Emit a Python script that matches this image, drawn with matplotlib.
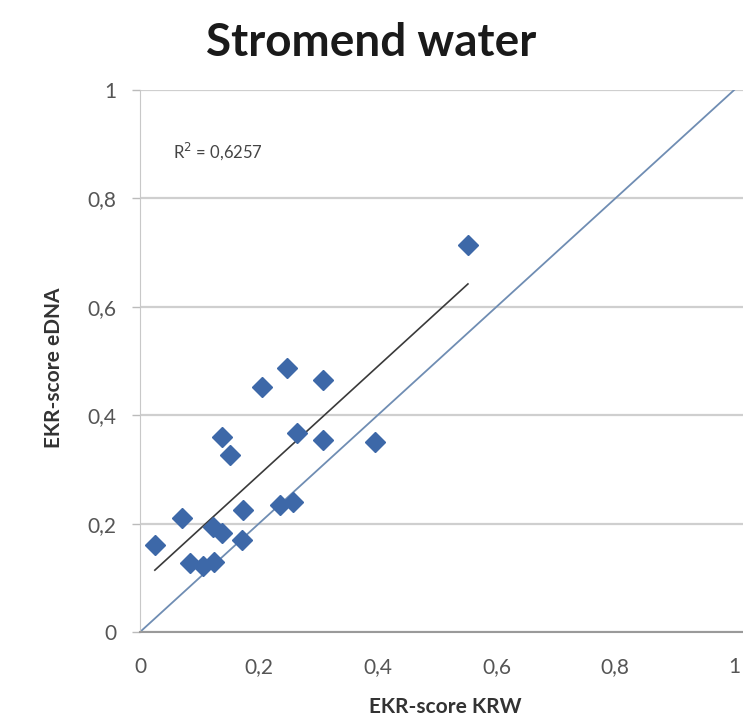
import numpy as np
import matplotlib
matplotlib.use("Agg")
import matplotlib.pyplot as plt

plt.rcParams['font.family'] = ['Lato', 'DejaVu Sans']

# EKR scores per location
krw = [0.552, 0.205, 0.247, 0.308, 0.138, 0.152, 0.264, 0.308, 0.396, 0.071,
       0.123, 0.138, 0.173, 0.236, 0.258, 0.172, 0.025, 0.084, 0.106, 0.125]
edna = [0.714, 0.452, 0.487, 0.465, 0.360, 0.327, 0.367, 0.354, 0.351, 0.210,
        0.194, 0.183, 0.225, 0.234, 0.240, 0.170, 0.161, 0.127, 0.122, 0.129]
ticks = [0, 0.2, 0.4, 0.6, 0.8, 1]
tick_labels = ['0', '0,2', '0,4', '0,6', '0,8', '1']
r2_text = 'R$^2$ = 0,6257'

fig = plt.figure(figsize=(7.43, 7.21), dpi=100)
ax = fig.add_axes([140 / 743, 0.1234, 603 / 743, 0.7517])

# 1:1 line and linear trend line
ax.plot([0, 1], [0, 1], color='#6f8db3', lw=1.3, zorder=2)
slope, icpt = np.polyfit(krw, edna, 1)
xs = np.array([min(krw), max(krw)])
ax.plot(xs, slope * xs + icpt, color='#3a3a3a', lw=1.2, zorder=2)

ax.plot(krw, edna, linestyle='none', marker='D', markersize=10,
        color='#3d68a8', zorder=3)

# grid runs on to the right edge, past x = 1
ax.set_xlim(0, 1.015)
ax.set_ylim(0, 1)
ax.set_xticks(ticks)
ax.set_xticklabels(tick_labels)
ax.set_yticks(ticks)
ax.set_yticklabels(tick_labels)
ax.tick_params(axis='x', labelsize=15, colors='#555555', length=0, pad=18)
ax.tick_params(axis='y', labelsize=15, colors='#555555', length=6,
               color='#bbbbbb', width=1, pad=11)
ax.yaxis.grid(True, color='#cfcfcf', lw=1.6)
ax.set_axisbelow(True)
ax.spines['right'].set_visible(False)
ax.spines['top'].set_visible(False)
ax.spines['left'].set_color('#c8c8c8')
ax.spines['bottom'].set_color('#9a9a9a')
ax.spines['bottom'].set_linewidth(1.5)

ax.text(0.055, 0.876, r2_text, fontsize=12, color='#444444')
fig.text(445 / 743, 1 - 707 / 721, 'EKR-score KRW', ha='center', va='center',
         fontsize=15, fontweight='bold', color='#333333')
fig.text(54 / 743, 1 - 368 / 721, 'EKR-score eDNA', ha='center', va='center',
         rotation=90, fontsize=15, fontweight='bold', color='#333333')
fig.text(0.5, 1 - 43 / 721, 'Stromend water', ha='center', va='center',
         fontsize=33, fontweight='bold', color='#1a1a1a')

fig.savefig('out.png', dpi=100)
